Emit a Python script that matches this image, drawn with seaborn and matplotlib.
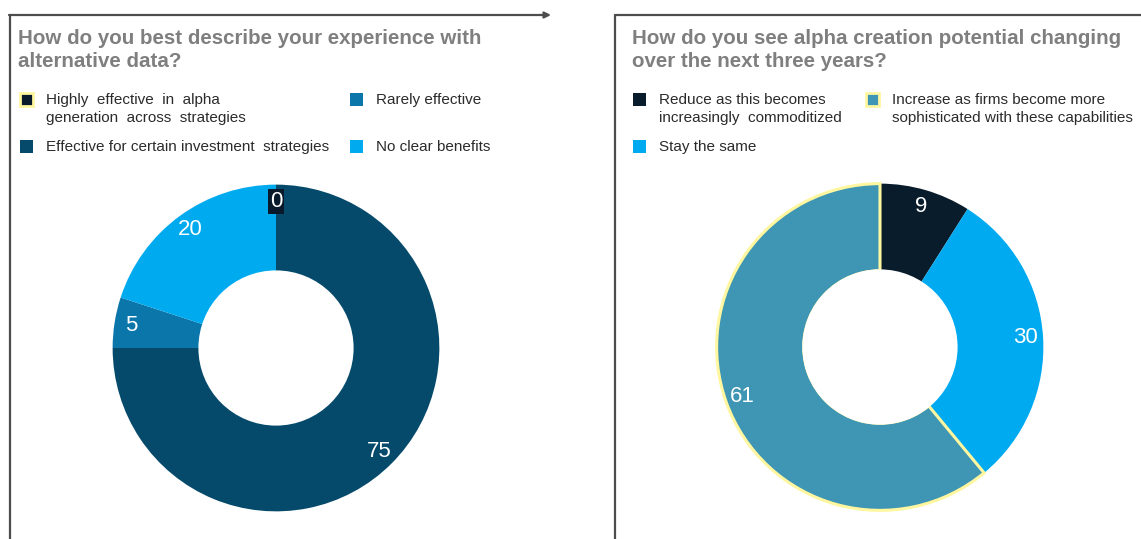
import matplotlib
matplotlib.use("Agg")
import matplotlib.pyplot as plt
from matplotlib.patches import Rectangle, FancyArrowPatch, Circle
import seaborn as sns

# data
left_title = "How do you best describe your experience with\nalternative data?"
left_labels = ["Highly  effective  in  alpha\ngeneration  across  strategies",
               "Effective for certain investment  strategies",
               "Rarely effective",
               "No clear benefits"]
left_values = [0, 75, 5, 20]
left_colors = ["#07192a", "#054a6b", "#0a76a9", "#00aaef"]

right_title = "How do you see alpha creation potential changing\nover the next three years?"
right_labels = ["Reduce as this becomes\nincreasingly  commoditized",
                "Stay the same",
                "Increase as firms become more\nsophisticated with these capabilities"]
right_values = [9, 30, 61]
right_colors = ["#081c2b", "#00aaf0", "#3f95b4"]

YELLOW = "#fff6a0"
W, H = 1141, 539
RING = 0.533

sns.set_theme(style="white")
plt.rcParams["font.family"] = ["Liberation Sans", "DejaVu Sans"]

fig = plt.figure(figsize=(W / 100, H / 100), dpi=100)


def fx(x):
    return x / W


def fy(y):
    return 1 - y / H


def donut(cx, cy, r, values, colors, hl):
    ax = fig.add_axes([fx(cx - r), fy(cy + r), 2 * r / W, 2 * r / H])
    total = sum(values)
    wedges, texts, autotexts = ax.pie(
        values, colors=colors, startangle=90, counterclock=False,
        wedgeprops=dict(width=RING, linewidth=0),
        autopct=lambda p: f"{p * total / 100:.0f}", pctdistance=0.895,
        textprops=dict(color="white", fontsize=16))
    for i in hl:
        wedges[i].set_edgecolor(YELLOW)
        wedges[i].set_linewidth(2.2)
    # hide the highlight stroke on the inner hole edge
    ax.add_patch(Circle((0, 0), 1 - RING + 0.008, facecolor="white",
                        edgecolor="none", zorder=5))
    ax.set_xlim(-1.01, 1.01)
    ax.set_ylim(-1.01, 1.01)
    return ax, autotexts


def legend_item(x, y, label, color, hl=False):
    fig.patches.append(Rectangle((fx(x), fy(y + 7)), 13 / W, 13 / H,
                                 transform=fig.transFigure, facecolor=color,
                                 edgecolor=YELLOW if hl else "none",
                                 linewidth=2 if hl else 0))
    fig.text(fx(x + 26), fy(y - 6), label, fontsize=11, color="#2b2b2b",
             va="top", ha="left", linespacing=1.4)


# frames
line_c = "#4d4d4d"
fig.add_artist(plt.Line2D([fx(10), fx(10)], [fy(15), fy(H)], color=line_c, lw=1.6))
fig.add_artist(FancyArrowPatch((fx(9), fy(15)), (fx(551), fy(15)),
                               transform=fig.transFigure, arrowstyle="-|>",
                               color=line_c, lw=1.6, mutation_scale=9,
                               shrinkA=0, shrinkB=0))
fig.add_artist(plt.Line2D([fx(615), fx(615)], [fy(15), fy(H)], color=line_c, lw=1.6))
fig.add_artist(plt.Line2D([fx(615), fx(W)], [fy(15), fy(15)], color=line_c, lw=1.6))

# titles
fig.text(fx(18), fy(29), left_title, fontsize=14.8, fontweight="bold",
         color="#7f7f7f", va="top", ha="left", linespacing=1.27)
fig.text(fx(632), fy(29), right_title, fontsize=14.8, fontweight="bold",
         color="#7f7f7f", va="top", ha="left", linespacing=1.27)

# legends
legend_item(20, 99, left_labels[0], left_colors[0], hl=True)
legend_item(350, 99, left_labels[2], left_colors[2])
legend_item(20, 146, left_labels[1], left_colors[1])
legend_item(350, 146, left_labels[3], left_colors[3])

legend_item(633, 99, right_labels[0], right_colors[0])
legend_item(866, 99, right_labels[2], right_colors[2], hl=True)
legend_item(633, 146, right_labels[1], right_colors[1])

# donuts
axl, tl = donut(276, 348, 165, left_values, left_colors, hl=[0])
tl[0].set_bbox(dict(facecolor=left_colors[0], edgecolor="none", pad=1.5))
axr, tr = donut(880, 347, 165, right_values, right_colors, hl=[2])

fig.savefig("out.png", dpi=100)
